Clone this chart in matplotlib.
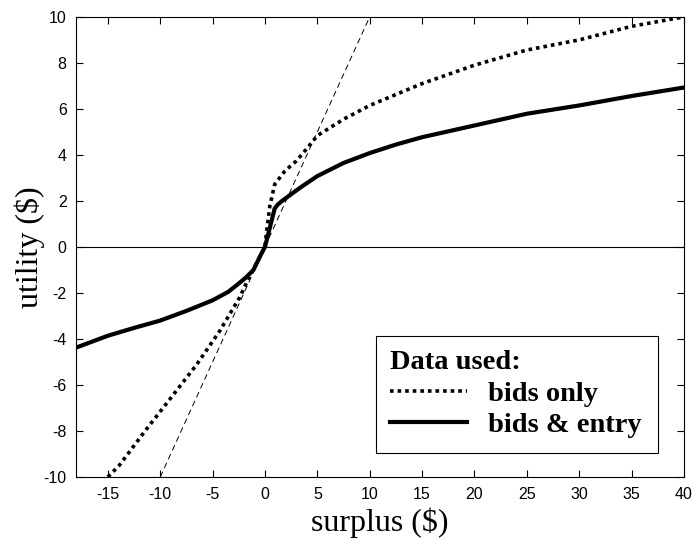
import matplotlib.pyplot as plt

# values
solid_x = [-18, -15, -12.5, -10, -7.5, -5, -3.5, -2.5, -1.8, -1.1, -0.33, 0, 0.5, 0.93, 1.2, 1.6, 2.5, 3.5,
           5, 7.5, 10, 12.5, 15, 20, 25, 30, 35, 40]
solid_y = [-4.37, -3.86, -3.52, -3.2, -2.78, -2.32, -1.95, -1.59, -1.32, -1.0, -0.28, 0, 0.9, 1.67, 1.83, 1.99, 2.29, 2.62,
           3.08, 3.65, 4.08, 4.45, 4.77, 5.28, 5.79, 6.15, 6.56, 6.93]

dot_x = [-15, -13.9, -11.5, -9, -6.5, -4.3, -2.4, -1.5, 0, 0.14, 0.46, 0.93, 1.9, 3.0,
         4.1, 5, 7.5, 10, 15, 20, 25, 30, 35, 40]
dot_y = [-10, -9.49, -8.03, -6.57, -5.1, -3.64, -2.18, -1.3, 0, 0.6, 1.77, 2.72, 3.3, 3.74,
         4.33, 4.84, 5.55, 6.15, 7.1, 7.9, 8.56, 9.0, 9.59, 10.0]

diag_x = [-10, 10]
diag_y = [-10, 10]

xticks = [-15, -10, -5, 0, 5, 10, 15, 20, 25, 30, 35, 40]
yticks = [-10, -8, -6, -4, -2, 0, 2, 4, 6, 8, 10]

plt.rcParams['font.family'] = 'Liberation Sans'
plt.rcParams['axes.unicode_minus'] = False

fig = plt.figure(figsize=(6.95, 5.4), dpi=100)
ax = fig.add_axes([0.110, 0.1167, 0.874, 0.852])

ax.axhline(0, color='black', lw=0.8)
ax.plot(diag_x, diag_y, color='black', lw=0.7, dashes=(6, 4))
ax.plot(dot_x, dot_y, color='black', lw=2.6, linestyle=(0, (1, 1.1)), label='bids only')
ax.plot(solid_x, solid_y, color='black', lw=3.0, label='bids & entry')

ax.set_xlim(-18, 40)
ax.set_ylim(-10, 10)
ax.set_xticks(xticks)
ax.set_yticks(yticks)
ax.tick_params(direction='in', length=5, width=0.8, top=True, right=True,
               labelsize=11.5, pad=7)
for s in ax.spines.values():
    s.set_linewidth(0.8)

ax.set_xlabel('surplus ($)', family='Liberation Serif', fontsize=23, labelpad=4)
ax.set_ylabel('utility ($)', family='Liberation Serif', fontsize=23, labelpad=-1)

leg = ax.legend(loc='upper left', bbox_to_anchor=(0.4929, 0.06, 0.4643, 0.2465), mode='expand',
                title='Data used:',
                prop={'family': 'Liberation Serif', 'weight': 'bold', 'size': 20.5},
                title_fontproperties={'family': 'Liberation Serif', 'weight': 'bold', 'size': 20.5},
                alignment='left', fancybox=False, edgecolor='black', framealpha=1,
                handlelength=2.7, handletextpad=0.75, borderpad=0.5, labelspacing=0.2,
                borderaxespad=0)
leg.get_frame().set_linewidth(0.8)

fig.savefig('out.png', dpi=100)
